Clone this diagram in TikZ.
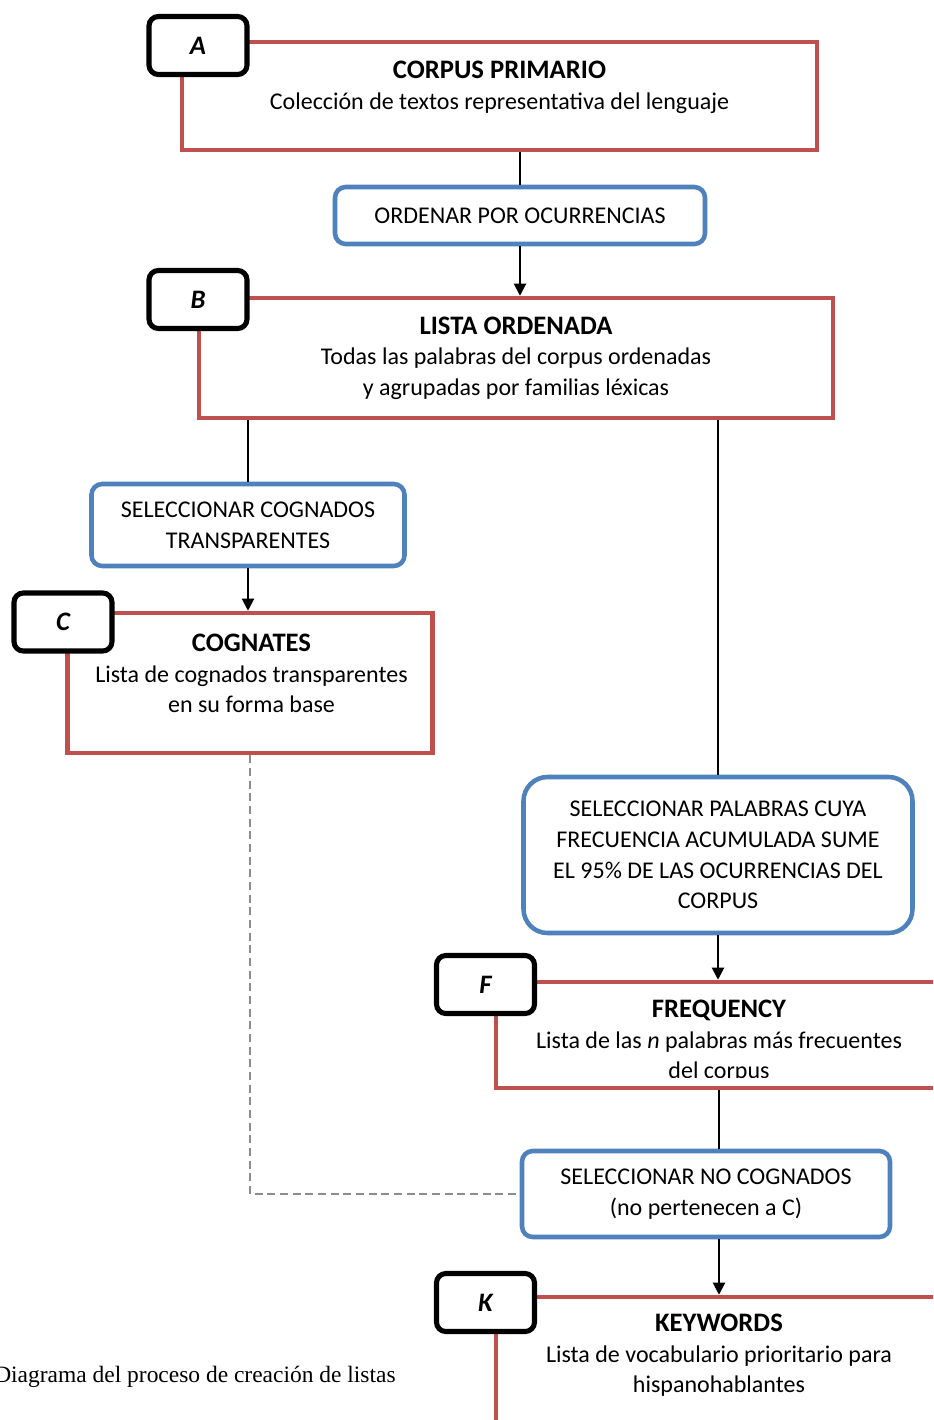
\documentclass[tikz,border=0pt]{standalone}
\usepackage{fontspec}
\setmainfont{Carlito}
\newfontfamily\capfont{Liberation Serif}
\usepackage{tikz}
\usetikzlibrary{arrows.meta,positioning}
\definecolor{boxred}{HTML}{C0504D}
\definecolor{boxblue}{HTML}{4F81BD}
\definecolor{dashgray}{HTML}{8C8C8C}
\newcommand{\ttl}[1]{{\fontsize{20}{23}\selectfont\bfseries #1}}

\begin{document}
\begin{tikzpicture}[x=0.75pt,y=-0.75pt,
   font=\fontsize{18}{23}\selectfont,
   res/.style={draw=boxred,line width=3.4pt,fill=white},
   tag/.style={draw=black,line width=3.8pt,fill=white,rounded corners=7pt,minimum width=98pt*0.75,minimum height=58pt*0.75,font=\fontsize{20}{22}\selectfont\bfseries\itshape},
   act/.style={draw=boxblue,line width=3.4pt,fill=white,rounded corners=8pt,align=center},
   txt/.style={align=center,inner sep=0pt},
   arr/.style={-{Triangle[length=9pt,width=9pt]},line width=1.5pt},
   lnk/.style={line width=1.5pt}]
  \useasboundingbox (0,0) rectangle (933,1420);
  \clip (0,0) rectangle (933,1420);

  % result boxes
  \node[res,minimum width=635*0.75pt,minimum height=108*0.75pt] (a) at (499.5,96) {};
  \node[txt] (at) at (499.5,87) {\ttl{CORPUS PRIMARIO}\\Colección de textos representativa del lenguaje};
  \node[res,minimum width=634*0.75pt,minimum height=120*0.75pt] (b) at (516,358) {};
  \node[txt] (bt) at (516,358) {\ttl{LISTA ORDENADA}\\Todas las palabras del corpus ordenadas\\y agrupadas por familias léxicas};
  \node[res,minimum width=365*0.75pt,minimum height=140*0.75pt] (c) at (250,683) {};
  \node[txt] (ct) at (251.5,673.5) {\ttl{COGNATES}\\Lista de cognados transparentes\\en su forma base};
  \node[res,minimum width=446*0.75pt,minimum height=106*0.75pt] (f) at (719,1035) {};
  \begin{scope}
    \clip (494,980) rectangle (944,1077);
    \node[txt] (ft) at (719,1041.5) {\ttl{FREQUENCY}\\Lista de las \textit{n} palabras más frecuentes\\del corpus};
  \end{scope}
  \node[res,minimum width=446*0.75pt,minimum height=150*0.75pt] (k) at (719,1372) {};
  \node[txt] (kt) at (719,1355.5) {\ttl{KEYWORDS}\\Lista de vocabulario prioritario para\\hispanohablantes};

  % tags
  \node[tag] (ta) at (198,45.5) {A};
  \node[tag] (tb) at (198,299.5) {B};
  \node[tag] (tc) at (63,622) {C};
  \node[tag] (tf) at (485.5,984.5) {F};
  \node[tag] (tk) at (485.5,1302.5) {K};

  % actions
  \node[act,minimum width=370*0.75pt,minimum height=57*0.75pt] (s1) at (520,215.5) {ORDENAR POR OCURRENCIAS};
  \node[act,minimum width=313*0.75pt,minimum height=82*0.75pt] (s2) at (248,525) {SELECCIONAR COGNADOS\\TRANSPARENTES};
  \node[act,rounded corners=18pt,minimum width=389*0.75pt,minimum height=156*0.75pt] (s3) at (718,855) {SELECCIONAR PALABRAS CUYA\\FRECUENCIA ACUMULADA SUME\\EL 95\% DE LAS OCURRENCIAS DEL\\CORPUS};
  \node[act,minimum width=368*0.75pt,minimum height=86*0.75pt] (s4) at (706,1194) {SELECCIONAR NO COGNADOS\\(no pertenecen a C)};

  % connectors
  \draw[lnk] (s1.north |- a.south) -- (s1.north);
  \draw[arr] (s1.south) -- (s1.south |- b.north);
  \draw[lnk] (s2.north |- b.south) -- (s2.north);
  \draw[arr] (s2.south) -- (s2.south |- c.north);
  \draw[lnk] (s3.north |- b.south) -- (s3.north);
  \draw[arr] (s3.south) -- (s3.south |- f.north);
  \draw[lnk] (f.south) -- (f.south |- s4.north);
  \draw[arr] (s4.south -| k.north) -- (k.north);
  \draw[line width=1.5pt,dashgray,dash pattern=on 6pt off 3.5pt] (c.south) |- (s4.west);

  \node[font=\capfont\fontsize{17.6}{20}\selectfont,anchor=west,inner sep=0pt] (cap) at (-6,1377) {Diagrama del proceso de creación de listas};
\end{tikzpicture}
\end{document}
